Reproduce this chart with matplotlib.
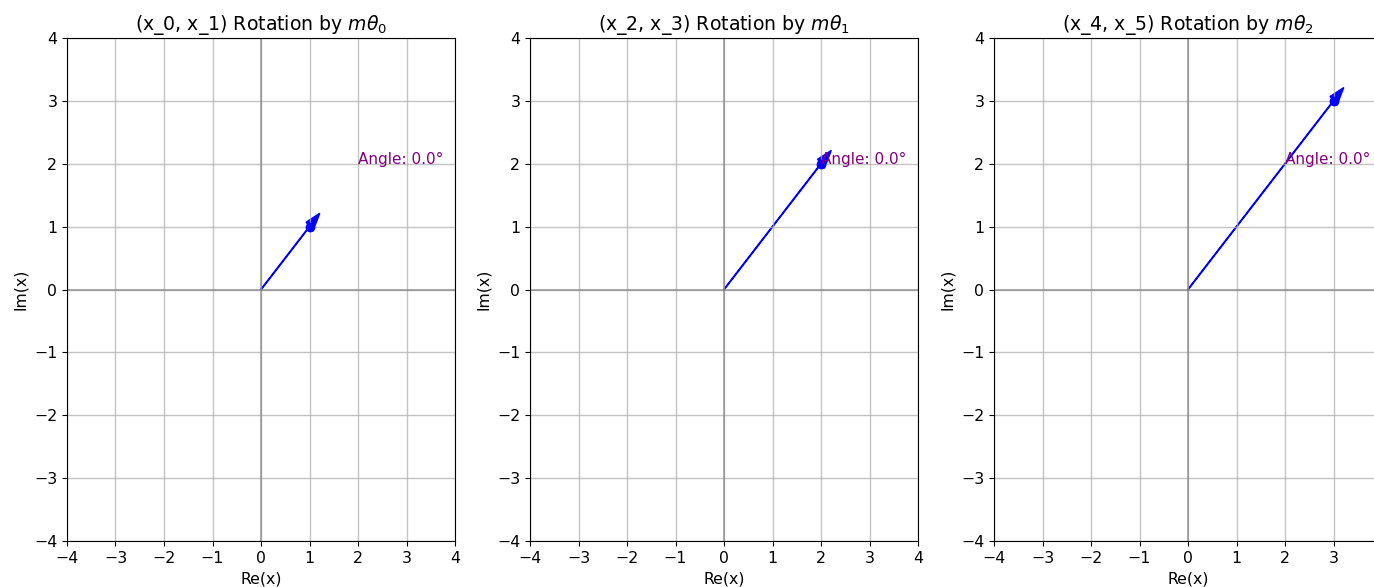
import numpy as np
import matplotlib
matplotlib.use("Agg")
from matplotlib import pyplot as plt

pairs = ['(x_0, x_1)', '(x_2, x_3)', '(x_4, x_5)']
theta_labels = [r'$m\theta_0$', r'$m\theta_1$', r'$m\theta_2$']
re_vals = [1, 2, 3]
im_vals = [1, 2, 3]
angles = [0.0, 0.0, 0.0]

plt.rcParams['font.size'] = 11.3

fig = plt.figure(figsize=(13.74, 5.87), dpi=100)
lefts = [67, 530, 994]

for i in range(3):
    ax = fig.add_axes([lefts[i] / 1374, 1 - 541 / 587, 388 / 1374, 503 / 587])
    ax.axhline(0, color='gray', lw=1.1, alpha=0.8)
    ax.axvline(0, color='gray', lw=1.1, alpha=0.8)
    ax.grid(True, color='#b0b0b0', alpha=0.75, lw=1.0)
    ax.arrow(0, 0, re_vals[i], im_vals[i], head_width=0.2, head_length=0.3,
             fc='blue', ec='blue', width=0.012)
    ax.plot(re_vals[i], im_vals[i], 'o', color='blue', markersize=6)
    ax.text(2, 2, 'Angle: %.1f°' % angles[i], color='purple', fontsize=11)
    ax.set_xlim(-4, 4)
    ax.set_ylim(-4, 4)
    ax.set_xlabel('Re(x)')
    ax.set_ylabel('Im(x)')
    ax.set_title(pairs[i] + ' Rotation by ' + theta_labels[i])
    if i == 2:
        # last panel runs off the right edge, its "4" label falls outside
        ax.set_xticks(np.arange(-4, 5))
        ax.set_xticklabels([str(v).replace('-', '\u2212') for v in range(-4, 4)] + [''])

fig.savefig('out.png', dpi=100)
